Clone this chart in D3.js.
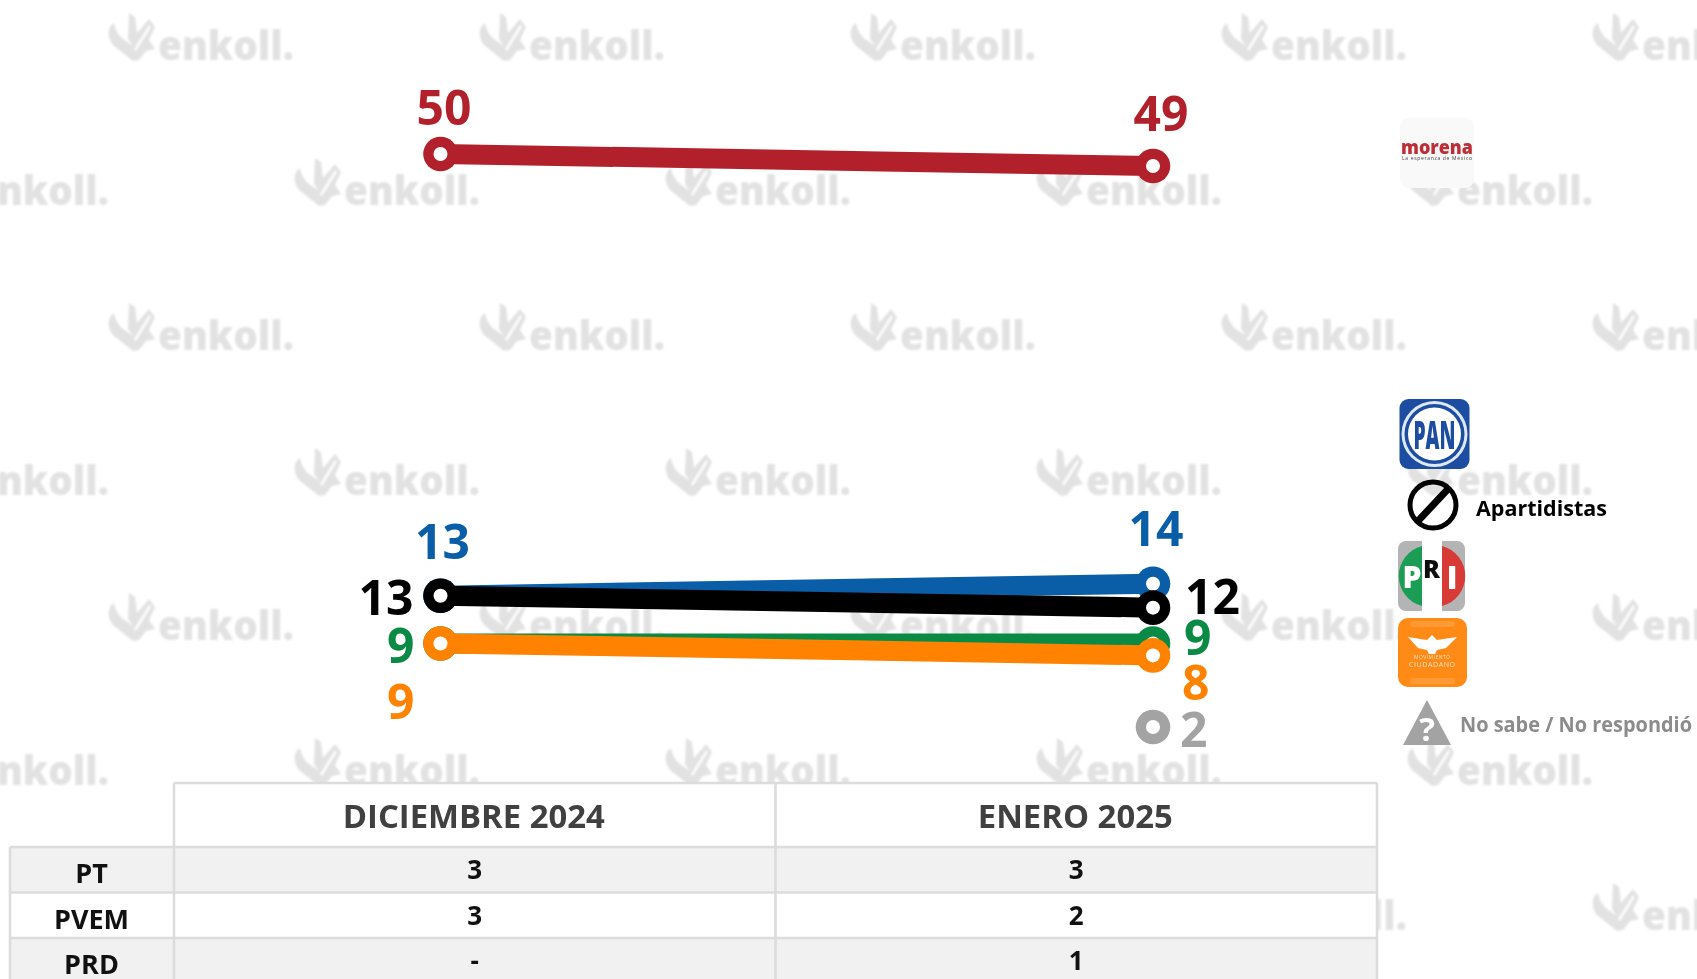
<!DOCTYPE html>
<html><head><meta charset="utf-8">
<script src="https://cdn.jsdelivr.net/npm/d3@7/dist/d3.min.js"></script>
<style>html,body{margin:0;padding:0;background:#fff;overflow:hidden}svg{display:block}text{font-family:"Open Sans",sans-serif}</style>
</head><body><svg id="c" width="1697" height="979"></svg>
<script>
const months = ["DICIEMBRE 2024", "ENERO 2025"];
const morena = [50, 49];
const pan = [13, 14];
const apartidistas = [13, 12];
const pri = [9, 9];
const mc = [9, 8];
const noSabe = [null, 2];
const tableRows = ["PT", "PVEM", "PRD"];
const tableDic = ["3", "3", "-"];
const tableEne = ["3", "2", "1"];

const drawn = [
  {v: morena, c: "#b2202c", lab: [[-24,-45,"start"],[8,-51,"middle"]]},
  {v: pan, c: "#0a5ea8", lab: [[2,-53,"middle"],[3,-54,"middle"]]},
  {v: apartidistas, c: "#000000", lab: [[-27,3,"end"],[32,-10,"start"]]},
  {v: pri, c: "#0a8a45", lab: [[-26,4,"end"],[31,-4,"start"]]},
  {v: mc, c: "#ff8200", lab: [[-26,60,"end"],[29,29,"start"]]},
  {v: noSabe, c: "#a3a3a3", lab: [[0,0,"start"],[27,4,"start"]]}
];

const svg = d3.select("#c");
const defs = svg.append("defs");
defs.append("filter").attr("id","soft").append("feGaussianBlur").attr("stdDeviation",0.8);
defs.append("filter").attr("id","softer").append("feGaussianBlur").attr("stdDeviation",0.6);

// watermark
const wm = svg.append("g").attr("filter","url(#soft)").attr("fill","#e2e2e2");
const rowYs = d3.range(7).map(i => 13 + i*145);
rowYs.forEach((ry,i) => {
  const x0 = i%2===0 ? 108 : -77;
  d3.range(6).forEach(k => {
    const g = wm.append("g").attr("transform",`translate(${x0+k*371},${ry})`);
    g.append("path").attr("d","M6 10 C-1 14 -1 25 5 32 L25 48 L31 47 L38 38 L47 36 L41 27 L47 14 L41 6 L29 20 L27 4 L21 0 L20 26 L25 33 L15 26 C10 22 7 16 6 10 Z");
    g.append("path").attr("d","M42 13 L27 37").attr("stroke","#fff").attr("stroke-width",2.5).attr("fill","none");
    g.append("text").attr("x",50).attr("y",47).attr("font-size",41).attr("font-weight",800).attr("textLength",136).attr("lengthAdjust","spacingAndGlyphs").text("enkoll.");
  });
});

// scales
const x = d3.scalePoint().domain(months).range([440.5,1153]);
const y = d3.scaleLinear().domain([0,50]).range([750.9,154]);

const lineGen = d3.line().defined(d=>d.val!==null).x(d=>x(d.m)).y(d=>y(d.val));
const plot = svg.append("g");
drawn.forEach(s => {
  const pts = months.map((m,i)=>({m,val:s.v[i]}));
  if (pts.every(p=>p.val!==null))
    plot.append("path").attr("d",lineGen(pts)).attr("fill","none").attr("stroke",s.c).attr("stroke-width",20);
  pts.filter(p=>p.val!==null).forEach(p=>{
    plot.append("circle").attr("cx",x(p.m)).attr("cy",y(p.val)).attr("r",17.3).attr("fill",s.c);
    plot.append("circle").attr("cx",x(p.m)).attr("cy",y(p.val)).attr("r",7).attr("fill","#fff");
  });
  pts.forEach((p,i)=>{
    if(p.val===null) return;
    const [dx,dy,a] = s.lab[i];
    plot.append("text").attr("x",x(p.m)+dx).attr("y",y(p.val)+dy+16).attr("text-anchor",a)
      .attr("font-size",48).attr("font-weight",700).attr("fill",s.c).text(p.val);
  });
});

// legend logos
const lg = svg.append("g");
// morena
const mo = lg.append("g").attr("filter","url(#softer)");
mo.append("rect").attr("x",1400).attr("y",118).attr("width",74).attr("height",70).attr("rx",9).attr("fill","#f9f9f9");
mo.append("text").attr("x",1437).attr("y",154).attr("text-anchor","middle").attr("font-size",20).attr("font-weight",800).attr("fill","#bd2f36").attr("textLength",72).attr("lengthAdjust","spacingAndGlyphs").text("morena");
mo.append("text").attr("x",1437).attr("y",160).attr("text-anchor","middle").attr("font-size",5).attr("fill","#444").attr("textLength",70).text("La esperanza de México");
// PAN
const pa = lg.append("g").attr("filter","url(#softer)");
pa.append("rect").attr("x",1399.5).attr("y",399).attr("width",70).attr("height",70).attr("rx",9).attr("fill","#1c4da0");
pa.append("circle").attr("cx",1434.5).attr("cy",434).attr("r",33).attr("fill","#dfe9f6");
pa.append("circle").attr("cx",1434.5).attr("cy",434).attr("r",30).attr("fill","#1c4da0");
pa.append("circle").attr("cx",1434.5).attr("cy",434).attr("r",26.5).attr("fill","#fff");
pa.append("text").attr("x",1434.5).attr("y",449).attr("text-anchor","middle").attr("font-size",39).attr("font-weight",800).attr("fill","#1c4da0").attr("textLength",42).attr("lengthAdjust","spacingAndGlyphs").text("PAN");
// Apartidistas
const ap = lg.append("g");
ap.append("circle").attr("cx",1433).attr("cy",505).attr("r",23).attr("fill","none").attr("stroke","#000").attr("stroke-width",5);
ap.append("line").attr("x1",1418).attr("y1",521).attr("x2",1448).attr("y2",489).attr("stroke","#000").attr("stroke-width",7);
ap.append("text").attr("x",1476).attr("y",516).attr("font-size",21).attr("font-weight",700).attr("fill","#000").attr("textLength",131).attr("lengthAdjust","spacingAndGlyphs").text("Apartidistas");
// PRI
const pr = lg.append("g").attr("filter","url(#softer)");
pr.append("rect").attr("x",1398).attr("y",541).attr("width",67).attr("height",70).attr("rx",8).attr("fill","#b4b4b4");
pr.append("path").attr("d","M1422 546 A31 31 0 0 0 1422 606 Z").attr("fill","#1f9d55");
pr.append("rect").attr("x",1422).attr("y",541).attr("width",20).attr("height",70).attr("fill","#fff");
pr.append("path").attr("d","M1442 546 A31 31 0 0 1 1442 606 Z").attr("fill","#d83a34");
pr.append("text").attr("x",1412).attr("y",588).attr("text-anchor","middle").attr("font-size",30).attr("font-weight",800).attr("fill","#fff").text("P");
pr.append("text").attr("x",1431.5).attr("y",578).attr("text-anchor","middle").attr("font-size",25).attr("font-weight",800).attr("fill","#111").text("R");
pr.append("text").attr("x",1452).attr("y",589).attr("text-anchor","middle").attr("font-size",32).attr("font-weight",800).attr("fill","#fff").text("I");
// MC
const mcg = lg.append("g").attr("filter","url(#softer)");
mcg.append("rect").attr("x",1398).attr("y",618).attr("width",69).attr("height",69).attr("rx",10).attr("fill","#ff8a14");
mcg.append("rect").attr("x",1410).attr("y",621).attr("width",45).attr("height",6).attr("rx",3).attr("fill","#ff9a35");
mcg.append("rect").attr("x",1410).attr("y",678).attr("width",45).attr("height",6).attr("rx",3).attr("fill","#ff9a35");
mcg.append("path").attr("d","M1408 637 L1427 640 L1432 635 L1437 640 L1457 637 L1446 648 L1437 650 L1435 654 L1429 654 L1427 650 L1418 648 Z").attr("fill","#fff");
mcg.append("text").attr("x",1432).attr("y",659).attr("text-anchor","middle").attr("font-size",5).attr("fill","#ffe3c4").attr("textLength",36).text("MOVIMIENTO");
mcg.append("text").attr("x",1432).attr("y",667).attr("text-anchor","middle").attr("font-size",7).attr("fill","#ffe3c4").attr("textLength",46).text("CIUDADANO");
// No sabe
const ns = lg.append("g");
ns.append("path").attr("d","M1427 700 L1451 745 L1403 745 Z").attr("fill","#a3a3a3");
ns.append("text").attr("x",1427).attr("y",741).attr("text-anchor","middle").attr("font-size",33).attr("font-weight",700).attr("fill","#fff").text("?");
ns.append("text").attr("x",1460).attr("y",732).attr("font-size",21).attr("font-weight",700).attr("fill","#8c8c8c").attr("textLength",232).attr("lengthAdjust","spacingAndGlyphs").text("No sabe / No respondió");

// table
const cols = [10,174,775.5,1377];
const top_ = 783, headH = 64, rowH = 45.5;
const rowY = i => top_+headH+i*rowH;
const tbl = svg.append("g");
tableRows.forEach((r,i)=>{
  tbl.append("rect").attr("x",cols[0]).attr("y",rowY(i)).attr("width",cols[3]-cols[0]).attr("height",i===2?60:rowH).attr("fill",i%2===0?"#f1f1f1":"#fff");
});
tbl.append("rect").attr("x",cols[1]).attr("y",top_).attr("width",cols[3]-cols[1]).attr("height",headH).attr("fill","#fff");
const hl = (x1,x2,yy)=>tbl.append("line").attr("x1",x1).attr("x2",x2).attr("y1",yy).attr("y2",yy).attr("stroke","#dcdcdc").attr("stroke-width",2.6);
const vl = (xx,y1,y2)=>tbl.append("line").attr("x1",xx).attr("x2",xx).attr("y1",y1).attr("y2",y2).attr("stroke","#dcdcdc").attr("stroke-width",2.6);
hl(cols[1],cols[3],top_);
hl(cols[0],cols[3],rowY(0)); hl(cols[0],cols[3],rowY(1)); hl(cols[0],cols[3],rowY(2));
vl(cols[0],rowY(0),979); vl(cols[1],top_,979); vl(cols[2],top_,979); vl(cols[3],top_,979);
months.forEach((m,i)=>{
  tbl.append("text").attr("x",(cols[i+1]+cols[i+2])/2-1).attr("y",828).attr("text-anchor","middle")
    .attr("font-size",33).attr("font-weight",700).attr("fill","#404040").attr("textLength",i?195:262).attr("lengthAdjust","spacingAndGlyphs").text(m);
});
tableRows.forEach((r,i)=>{
  tbl.append("text").attr("x",91.5).attr("y",rowY(i)+36).attr("text-anchor","middle").attr("font-size",27).attr("font-weight",700).attr("fill","#111").text(r);
  [tableDic,tableEne].forEach((arr,j)=>{
    tbl.append("text").attr("x",(cols[j+1]+cols[j+2])/2).attr("y",rowY(i)+32).attr("text-anchor","middle").attr("font-size",26).attr("font-weight",700).attr("fill","#111").text(arr[i]);
  });
});
</script></body></html>
